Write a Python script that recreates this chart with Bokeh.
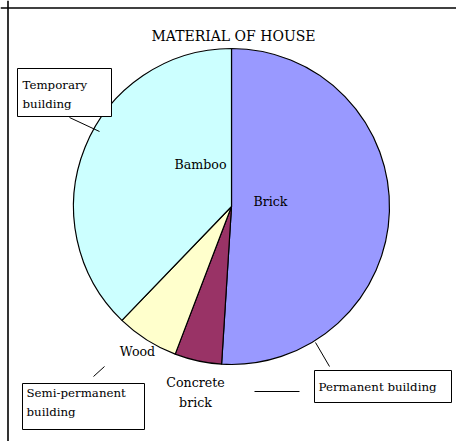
import numpy as np
from bokeh.plotting import figure
from bokeh.models import Range1d, Span, ColumnDataSource
from bokeh.core.properties import value
from bokeh.embed import file_html
from bokeh.resources import INLINE

# ---- data ----
title_text = "MATERIAL OF HOUSE"
materials = ["Brick", "Concrete brick", "Wood", "Bamboo"]
shares = [51.0, 4.8, 6.4, 37.8]
slice_colors = ["#9999FF", "#993366", "#FFFFCC", "#CCFFFF"]
groups = ["Temporary building", "Semi-permanent building", "Permanent building"]

# ---- layout (screen coordinates, y downward) ----
FONT = "DejaVu Serif"
FS_TITLE = "14px"
FS_SLICE = "12.6px"
FS_BOX = "11.8px"
cx, cy, R = 231, 206, 158
slice_label_pos = {
    "Brick": (270, 201),
    "Concrete brick": (195, 392),
    "Wood": (137, 351),
    "Bamboo": (200, 164),
}
group_boxes = {  # left, right, top, bottom
    "Temporary building": (17, 111, 68, 116),
    "Semi-permanent building": (22, 144, 383, 429),
    "Permanent building": (314, 451, 370, 402),
}
group_text = {
    "Temporary building": (22, 94, "Temporary\nbuilding"),
    "Semi-permanent building": (26, 402, "Semi-permanent\nbuilding"),
    "Permanent building": (318, 386, "Permanent building"),
}
leaders = [((69, 117), (99, 131)), ((93, 376), (104, 366)),
           ((254, 391), (299, 391)), ((315, 342), (329, 366))]

p = figure(width=456, height=441, output_backend="svg", toolbar_location=None,
           x_range=Range1d(0, 456), y_range=Range1d(-441, 0), min_border=0)
p.axis.visible = False
p.grid.visible = False
p.outline_line_color = None
p.background_fill_color = "white"
p.border_fill_color = "white"

# frame (left and top edges visible in the reference)
p.add_layout(Span(location=7.5, dimension="height", line_color="black", line_width=1.6))
p.add_layout(Span(location=-7.5, dimension="width", line_color="black", line_width=1.6))

# pie
fr = np.array(shares) / sum(shares)
cum = np.concatenate([[0], np.cumsum(fr)])
start = np.pi / 2 - cum[:-1] * 2 * np.pi
end = np.pi / 2 - cum[1:] * 2 * np.pi
src = ColumnDataSource(dict(start=start, end=end, color=slice_colors, name=materials))
p.wedge(x=cx, y=-cy, radius=R, start_angle="start", end_angle="end", direction="clock",
        fill_color="color", line_color="black", line_width=1.2, source=src)

# title
p.text(x=[233], y=[-35], text=[title_text], text_font=value(FONT), text_font_size=FS_TITLE,
       text_align="center", text_baseline="middle", text_color="black")

# slice labels
lx = [slice_label_pos[m][0] for m in materials]
ly = [-slice_label_pos[m][1] for m in materials]
ltxt = [m.replace(" ", "\n") if m == "Concrete brick" else m for m in materials]
p.text(x=lx, y=ly, text=ltxt, text_font=value(FONT), text_font_size=FS_SLICE,
       text_align="center", text_baseline="middle", text_color="black",
       text_line_height=1.35)

# leader lines
p.segment(x0=[a[0] for a, b in leaders], y0=[-a[1] for a, b in leaders],
          x1=[b[0] for a, b in leaders], y1=[-b[1] for a, b in leaders],
          line_color="black", line_width=1)

# group boxes
p.quad(left=[group_boxes[g][0] for g in groups], right=[group_boxes[g][1] for g in groups],
       top=[-group_boxes[g][2] for g in groups], bottom=[-group_boxes[g][3] for g in groups],
       fill_color="white", line_color="black", line_width=1)
p.text(x=[group_text[g][0] for g in groups], y=[-group_text[g][1] for g in groups],
       text=[group_text[g][2] for g in groups], text_font=value(FONT), text_font_size=FS_BOX,
       text_align="left", text_baseline="middle", text_color="black",
       text_line_height=1.3)

open("out.html", "w").write(file_html(p, INLINE))
